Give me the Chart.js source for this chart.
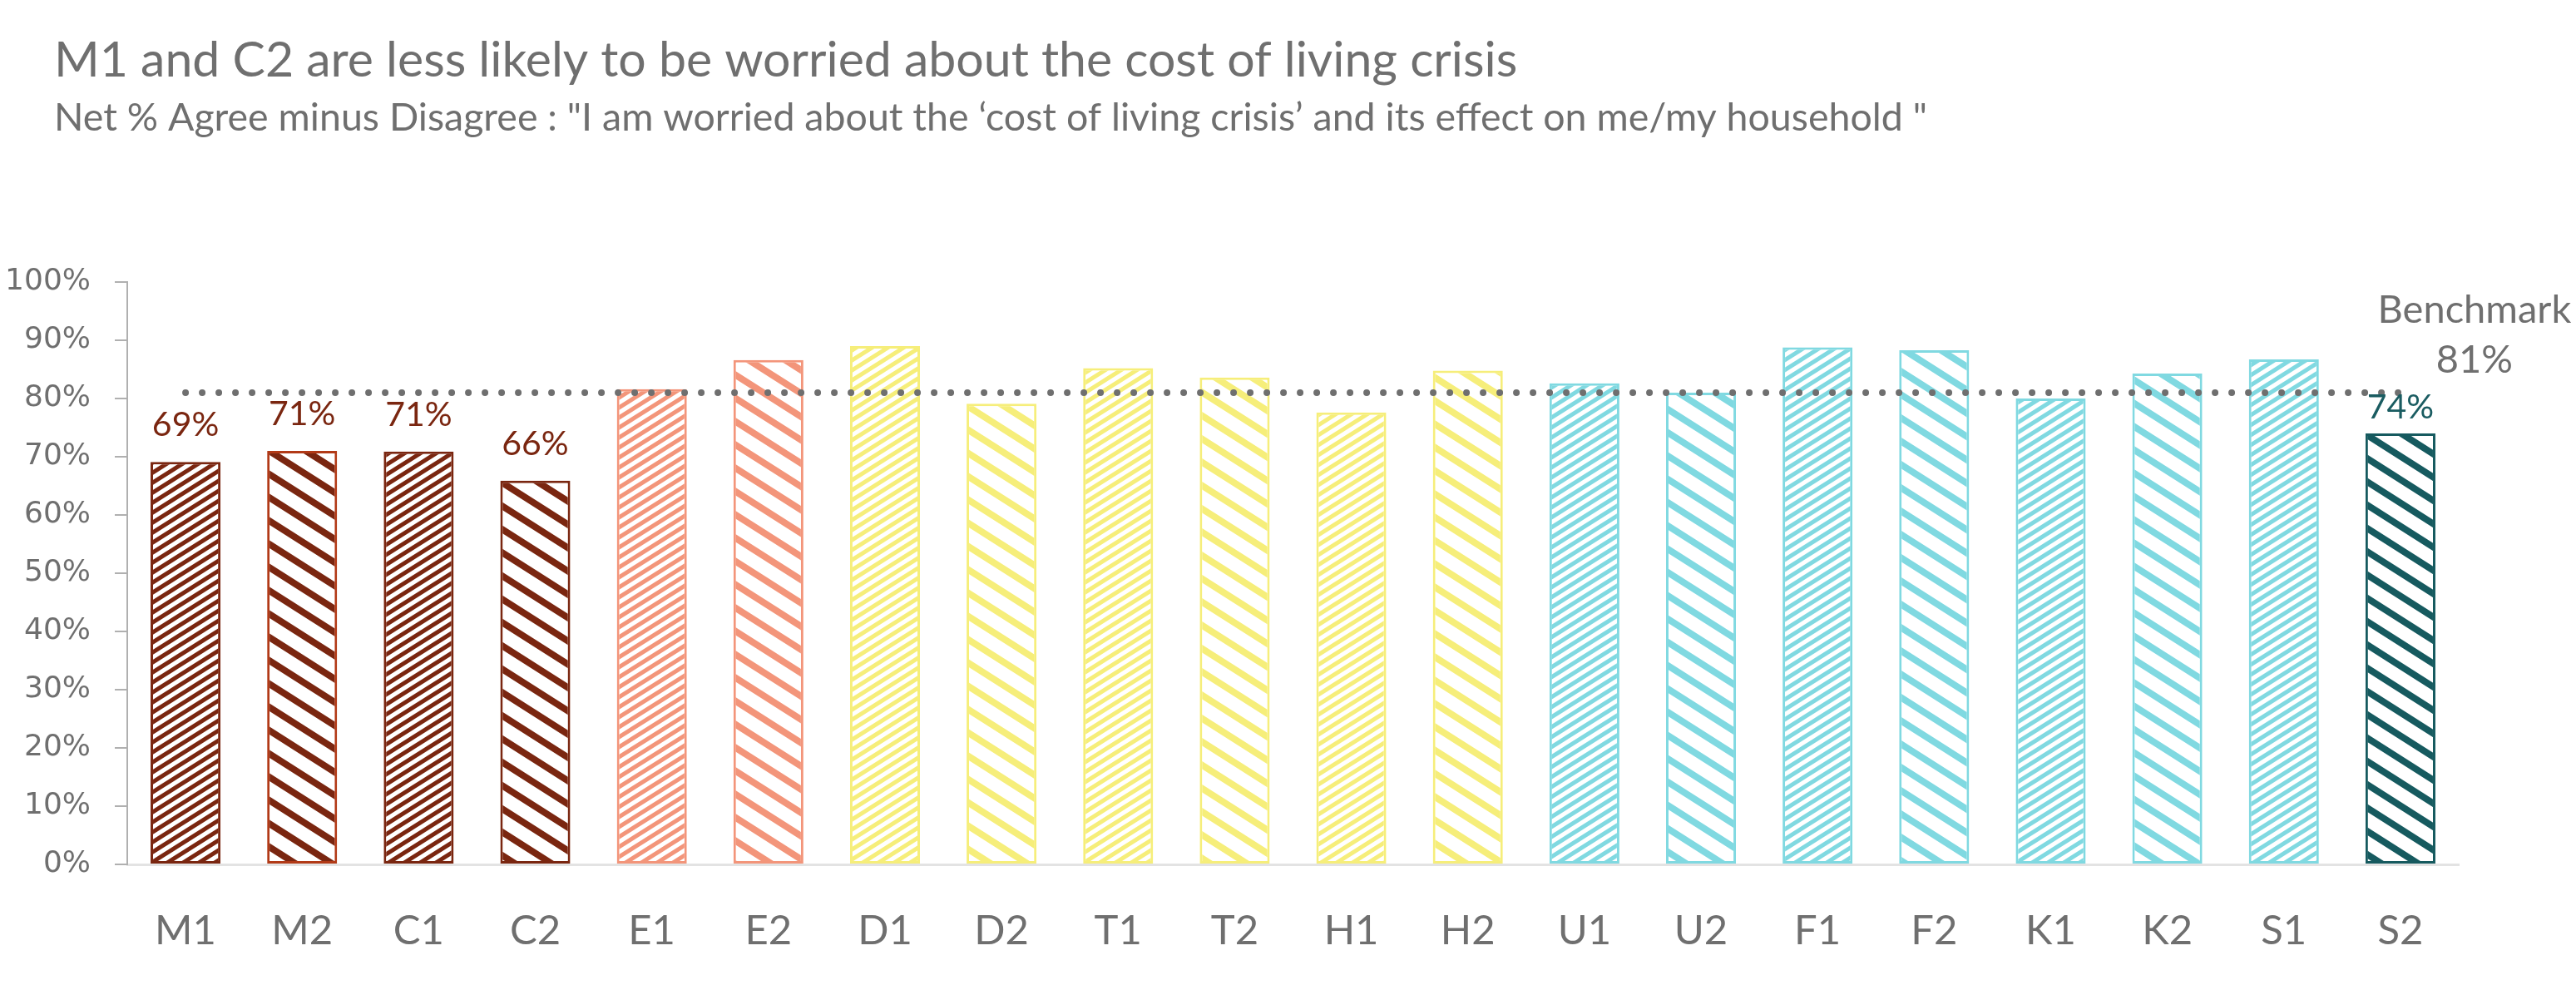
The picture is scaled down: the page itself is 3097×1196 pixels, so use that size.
<!DOCTYPE html>
<html>
<head>
<meta charset="utf-8">
<script src="https://cdn.jsdelivr.net/npm/chart.js@4.4.1/dist/chart.umd.min.js"></script>
<style>
html, body { margin: 0; padding: 0; background: #ffffff; }
#wrap { width: 3097px; height: 1196px; position: relative; }
</style>
</head>
<body>
<div id="wrap"><canvas id="c"></canvas></div>
<script>
// ---------- data ----------
const titleText = "M1 and C2 are less likely to be worried about the cost of living crisis";
const subtitleText = 'Net % Agree minus Disagree : "I am worried about the \u2018cost of living crisis\u2019 and its effect on me/my household "';
const categories = ["M1","M2","C1","C2","E1","E2","D1","D2","T1","T2","H1","H2","U1","U2","F1","F2","K1","K2","S1","S2"];
const netAgree = [69.1, 71.0, 70.9, 65.9, 81.6, 86.6, 89.0, 79.1, 85.2, 83.6, 77.6, 84.8, 82.6, 81.0, 88.8, 88.3, 80.0, 84.3, 86.7, 74.0];
const benchmarkValue = 81;
const benchmarkLine = [81, 81, 81, 81, 81, 81, 81, 81, 81, 81, 81, 81, 81, 81, 81, 81, 81, 81, 81, 81];
const benchmarkName = "Benchmark";
const labelledBars = ["M1", "M2", "C1", "C2", "S2"];
const yTickValues = [0, 10, 20, 30, 40, 50, 60, 70, 80, 90, 100];
const yTickLabels = ["0%", "10%", "20%", "30%", "40%", "50%", "60%", "70%", "80%", "90%", "100%"];

// ---------- styles ----------
const BROWN = "#7A2610", SALMON = "#F3957A", YELLOW = "#F6EE7A", CYAN = "#80D9E1", TEAL = "#165A5F";
const stripeColors = [BROWN, BROWN, BROWN, BROWN, SALMON, SALMON, YELLOW, YELLOW, YELLOW, YELLOW, YELLOW, YELLOW, CYAN, CYAN, CYAN, CYAN, CYAN, CYAN, CYAN, TEAL];
const edgeColors = [BROWN, "#B23A17", BROWN, BROWN, SALMON, SALMON, YELLOW, YELLOW, YELLOW, YELLOW, YELLOW, YELLOW, CYAN, CYAN, CYAN, CYAN, CYAN, CYAN, CYAN, TEAL];
const patternKinds = ["fine","wide","fine","wide","fine","wide","fine","wide","fine","wide","fine","wide","fine","wide","fine","wide","fine","wide","fine","wide"];
const labelColors = { M1: "#7A2610", M2: "#7A2610", C1: "#7A2610", C2: "#7A2610", S2: "#1A5C61" };
const labelGaps = { M1: 31, M2: 31, C1: 31, C2: 31, S2: 18 };
const GREY_TEXT = "#6F6F6F";

function makePattern(color, kind) {
  const t = document.createElement("canvas");
  const W = kind === "wide" ? 44 : 19;
  const H = kind === "wide" ? 28 : 12;
  t.width = W; t.height = H;
  const g = t.getContext("2d");
  g.fillStyle = "#ffffff";
  g.fillRect(0, 0, W, H);
  g.strokeStyle = color;
  g.lineWidth = kind === "wide" ? 8 : 5;
  g.lineCap = "square";
  g.beginPath();
  for (let k = -2; k <= 2; k++) {
    if (kind === "wide") { g.moveTo(k * W - W, -H); g.lineTo(k * W + 2 * W, 2 * H); }
    else { g.moveTo(k * W - W, 2 * H); g.lineTo(k * W + 2 * W, -H); }
  }
  g.stroke();
  return g.createPattern(t, "repeat");
}

const textPlugin = {
  id: "texts",
  afterDraw(chart) {
    const ctx = chart.ctx;
    ctx.save();
    // title and subtitle
    ctx.textAlign = "left";
    ctx.textBaseline = "alphabetic";
    ctx.fillStyle = GREY_TEXT;
    ctx.font = "59px Lato";
    ctx.fillText(titleText, 65, 92);
    ctx.font = "46.5px Lato";
    ctx.fillText(subtitleText, 65, 157);

    // data labels
    const meta = chart.getDatasetMeta(1);
    ctx.textAlign = "center";
    ctx.font = "41px Lato";
    categories.forEach((cat, i) => {
      if (!labelledBars.includes(cat)) return;
      const el = meta.data[i];
      ctx.fillStyle = labelColors[cat];
      ctx.fillText(Math.round(netAgree[i]) + "%", el.x, el.y - labelGaps[cat]);
    });

    // benchmark label
    const xs = chart.scales.x, ys = chart.scales.y;
    const bx = xs.getPixelForValue(categories.length - 1) + 89;
    const by = ys.getPixelForValue(benchmarkValue);
    ctx.fillStyle = GREY_TEXT;
    ctx.font = "47px Lato";
    ctx.fillText(benchmarkName, bx, by - 84);
    ctx.fillText(benchmarkValue + "%", bx, by - 24);
    ctx.restore();
  }
};

function build() {
  const patterns = categories.map((c, i) => makePattern(stripeColors[i], patternKinds[i]));
  new Chart(document.getElementById("c"), {
    data: {
      labels: categories,
      datasets: [
        {
          type: "line",
          label: benchmarkName,
          data: benchmarkLine,
          borderColor: "#6F6F6F",
          borderWidth: 8,
          borderDash: [0, 20],
          borderCapStyle: "round",
          pointRadius: 0,
          fill: false,
          order: 0
        },
        {
          type: "bar",
          label: "Net % Agree",
          data: netAgree,
          backgroundColor: patterns,
          borderColor: edgeColors,
          borderWidth: 3,
          borderSkipped: false,
          barPercentage: 0.6,
          categoryPercentage: 1.0,
          order: 1
        }
      ]
    },
    options: {
      responsive: true,
      maintainAspectRatio: false,
      animation: false,
      devicePixelRatio: 1,
      layout: { padding: { left: 0, right: 141, top: 339, bottom: 0 } },
      plugins: { legend: { display: false }, tooltip: { enabled: false }, title: { display: false } },
      scales: {
        x: {
          offset: true,
          grid: { display: false },
          border: { display: true, color: "#E3E3E3", width: 3 },
          ticks: { color: GREY_TEXT, font: { family: "Lato", size: 49 }, padding: 43, maxRotation: 0, autoSkip: false },
          afterFit(s) { s.height = 157; }
        },
        y: {
          min: 0, max: 100,
          afterBuildTicks(s) { s.ticks = yTickValues.map(v => ({ value: v })); },
          grid: { display: true, drawOnChartArea: false, drawTicks: true, tickLength: 15, color: "#B0B0B0", lineWidth: 2 },
          border: { display: true, color: "#B0B0B0", width: 2 },
          ticks: {
            color: GREY_TEXT,
            font: { family: "DejaVu Sans", size: 36 },
            padding: 29,
            callback(v) { const i = yTickValues.indexOf(v); return i >= 0 ? yTickLabels[i] : ""; }
          },
          afterFit(s) { s.width = 153; }
        }
      }
    },
    plugins: [textPlugin]
  });
}

const fontLoads = ["59px Lato", "47px Lato", "49px Lato", "36px 'DejaVu Sans'"].map(f => document.fonts.load(f).catch(() => null));
Promise.all(fontLoads).then(build, build);
</script>
</body>
</html>
